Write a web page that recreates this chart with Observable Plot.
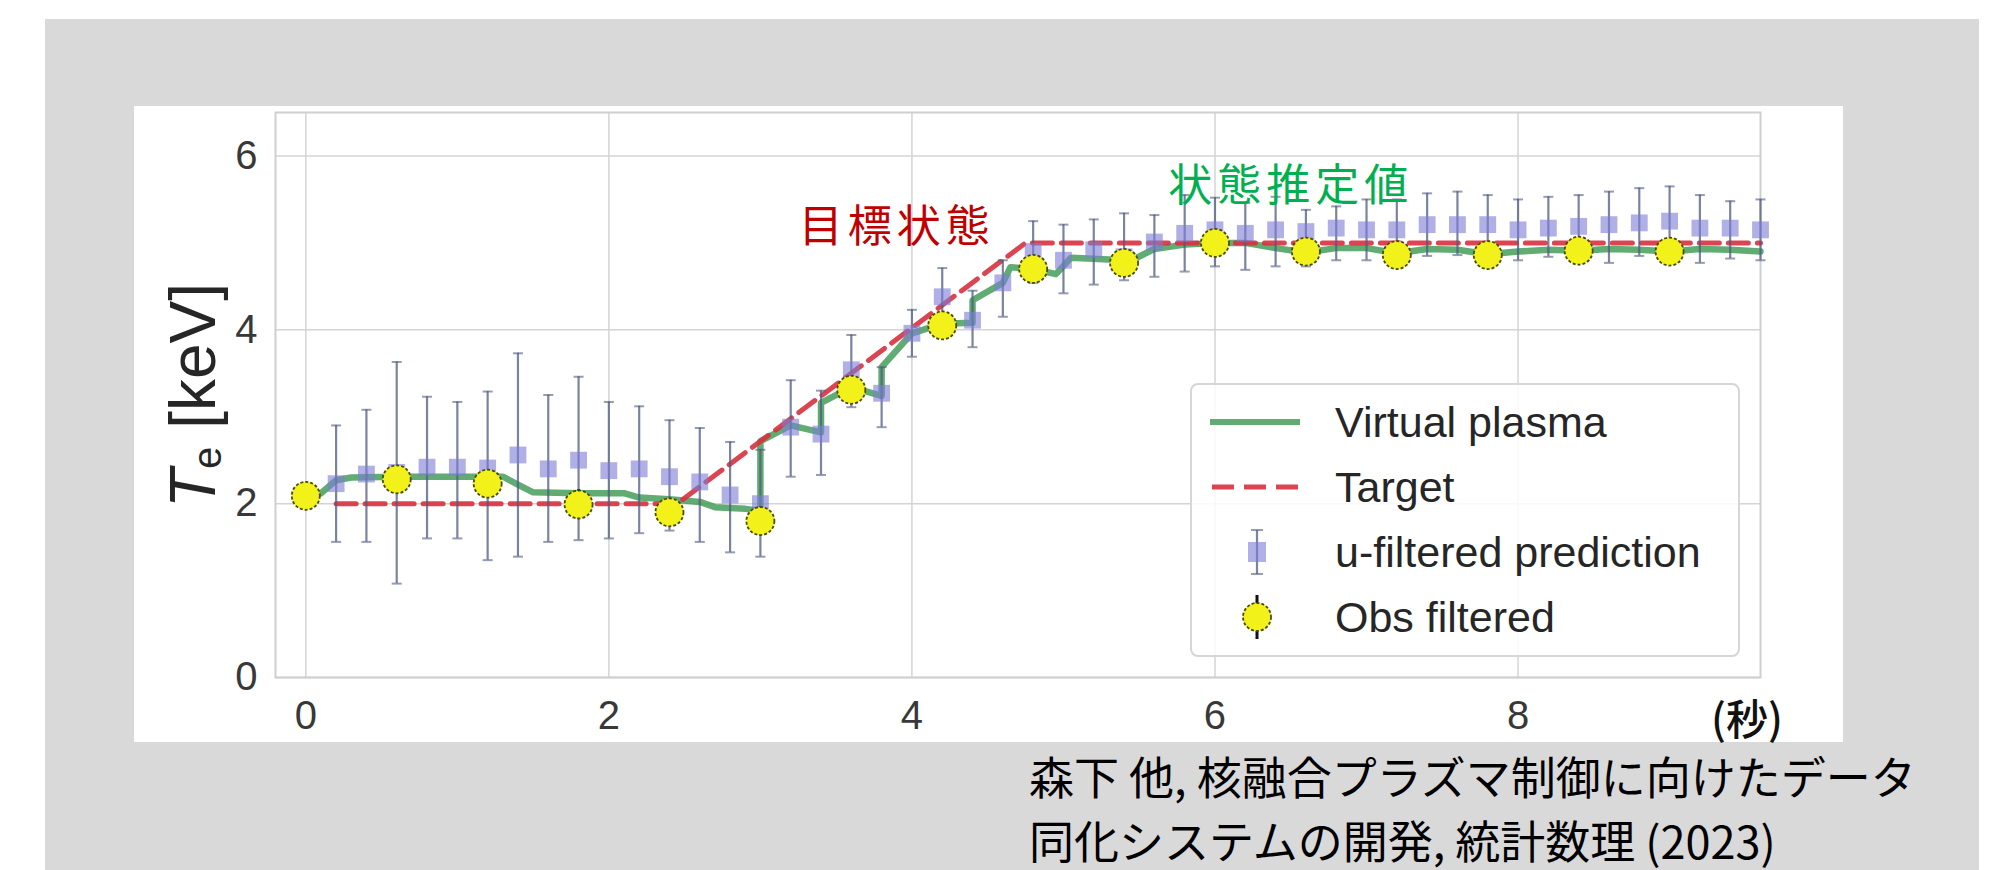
<!DOCTYPE html>
<html>
<head>
<meta charset="utf-8">
<script src="https://cdn.jsdelivr.net/npm/d3@7"></script>
<script src="https://cdn.jsdelivr.net/npm/@observablehq/plot@0.6"></script>
<style>
  html, body { margin: 0; padding: 0; background: #ffffff; }
  body { width: 2005px; height: 870px; position: relative; overflow: hidden; }
  #panel { position: absolute; left: 45px; top: 19px; width: 1934px; height: 851px; background: #d9d9d9; }
  #chart { position: absolute; left: 134px; top: 106px; width: 1709px; height: 636px; background: #ffffff; }
  #chart svg { display: block; }
  #legend { position: absolute; left: 1190px; top: 383px; width: 550px; height: 274px; box-sizing: border-box;
            border: 2px solid #d6d6d6; border-radius: 8px; background: rgba(255,255,255,0.85); }
  .lg-row { position: absolute; left: 0; width: 100%; height: 60px; }
  .lg-row svg { position: absolute; left: 12px; top: 0; }
  .lg-row span { position: absolute; left: 143px; top: 0; line-height: 60px; font-family: "Liberation Sans", Arial, sans-serif;
                 font-size: 43px; color: #262626; white-space: nowrap; }
  #unit { position: absolute; left: 1711px; top: 693px; font-family: "Noto Sans CJK JP", sans-serif; font-size: 42px;
          line-height: 48px; color: #111; font-weight: 500; }
  #caption { position: absolute; left: 1029px; top: 744px; font-family: "Noto Sans CJK JP", sans-serif; font-size: 45px;
             line-height: 64px; color: #000; white-space: nowrap; }
</style>
</head>
<body>
<div id="panel"></div>
<div id="chart"></div>
<div id="legend"></div>
<div id="unit">(秒)</div>
<div id="caption">森下 他, 核融合プラズマ制御に向けたデータ<br>同化システムの開発, 統計数理 (2023)</div>
<script>
// ---------------- data ----------------
const xTicks = [0, 2, 4, 6, 8];
const yTicks = [0, 2, 4, 6];

// Virtual plasma (green line)
const plasmaT   = [0, 0.1, 0.2, 0.3, 0.6, 1.0, 1.3, 1.4, 1.5, 1.8, 2.1, 2.2, 2.4, 2.6, 2.7, 2.9, 3.0, 3.0, 3.2, 3.4, 3.4, 3.6, 3.8, 3.8, 4.0, 4.2, 4.4, 4.4, 4.6, 4.65, 4.8, 4.95, 5.05, 5.3, 5.45, 5.6, 5.8, 6.0, 6.2, 6.4, 6.6, 6.8, 7.0, 7.2, 7.4, 7.6, 7.8, 8.0, 8.2, 8.4, 8.6, 8.8, 9.0, 9.2, 9.4, 9.6];
const plasmaVal = [2.08, 2.12, 2.27, 2.30, 2.31, 2.31, 2.31, 2.22, 2.13, 2.12, 2.12, 2.07, 2.05, 2.02, 1.96, 1.94, 1.92, 2.72, 2.90, 2.82, 3.16, 3.34, 3.24, 3.57, 3.96, 4.07, 4.08, 4.34, 4.54, 4.72, 4.70, 4.64, 4.83, 4.81, 4.80, 4.93, 4.98, 5.00, 5.00, 4.94, 4.89, 4.94, 4.94, 4.88, 4.93, 4.92, 4.87, 4.90, 4.92, 4.91, 4.93, 4.92, 4.90, 4.93, 4.92, 4.90];

// Target (red dashed)
const targetT   = [0.2, 2.45, 4.75, 9.6];
const targetVal = [2.0, 2.0, 5.0, 5.0];

// u-filtered prediction (squares with error bars)
const predT   = [0.2, 0.4, 0.6, 0.8, 1.0, 1.2, 1.4, 1.6, 1.8, 2.0, 2.2, 2.4, 2.6, 2.8, 3.0, 3.2, 3.4, 3.6, 3.8, 4.0, 4.2, 4.4, 4.6, 4.8, 5.0, 5.2, 5.4, 5.6, 5.8, 6.0, 6.2, 6.4, 6.6, 6.8, 7.0, 7.2, 7.4, 7.6, 7.8, 8.0, 8.2, 8.4, 8.6, 8.8, 9.0, 9.2, 9.4, 9.6];
const predVal = [2.23, 2.34, 2.36, 2.42, 2.42, 2.41, 2.56, 2.40, 2.50, 2.38, 2.40, 2.31, 2.25, 2.10, 2.00, 2.88, 2.80, 3.54, 3.27, 3.96, 4.38, 4.11, 4.54, 4.90, 4.80, 4.92, 4.84, 5.01, 5.11, 5.15, 5.11, 5.15, 5.13, 5.17, 5.15, 5.15, 5.21, 5.21, 5.21, 5.15, 5.17, 5.19, 5.21, 5.23, 5.25, 5.17, 5.17, 5.15];
const predLo  = [1.56, 1.56, 1.08, 1.60, 1.60, 1.35, 1.39, 1.56, 1.58, 1.60, 1.66, 1.69, 1.56, 1.44, 1.39, 2.31, 2.33, 3.11, 2.88, 3.69, 4.04, 3.80, 4.15, 4.54, 4.42, 4.52, 4.57, 4.61, 4.67, 4.73, 4.69, 4.73, 4.73, 4.80, 4.80, 4.80, 4.85, 4.86, 4.85, 4.80, 4.84, 4.80, 4.77, 4.85, 4.80, 4.77, 4.82, 4.80];
const predHi  = [2.90, 3.08, 3.63, 3.23, 3.17, 3.29, 3.73, 3.25, 3.46, 3.17, 3.12, 2.96, 2.87, 2.71, 2.62, 3.42, 3.30, 3.94, 3.57, 4.23, 4.71, 4.45, 4.80, 5.25, 5.21, 5.27, 5.34, 5.32, 5.55, 5.52, 5.46, 5.53, 5.38, 5.42, 5.50, 5.50, 5.57, 5.59, 5.55, 5.50, 5.53, 5.55, 5.59, 5.63, 5.65, 5.55, 5.48, 5.50];

// Obs filtered (yellow circles)
const obsT   = [0, 0.6, 1.2, 1.8, 2.4, 3.0, 3.6, 4.2, 4.8, 5.4, 6.0, 6.6, 7.2, 7.8, 8.4, 9.0];
const obsVal = [2.09, 2.28, 2.23, 1.99, 1.90, 1.80, 3.31, 4.05, 4.70, 4.77, 5.00, 4.90, 4.86, 4.86, 4.91, 4.90];
const obsErr = [0.14, 0.15, 0.15, 0.17, 0.16, 0.16, 0.15, 0.15, 0.15, 0.15, 0.15, 0.15, 0.15, 0.15, 0.15, 0.15];

// annotations
const annoLabel = ["目標状態", "状態推定値"];
const annoX     = [3.9, 6.5];
const annoY     = [5.17, 5.64];
const annoColor = ["#c00000", "#00b050"];

const legendLabels = ["Virtual plasma", "Target", "u-filtered prediction", "Obs filtered"];

// ---------------- tables ----------------
const plasma = plasmaT.map((t, i) => ({t, v: plasmaVal[i]}));
const target = targetT.map((t, i) => ({t, v: targetVal[i]}));
const pred = predT.map((t, i) => ({t, v: predVal[i], lo: predLo[i], hi: predHi[i]}));
const obs = obsT.map((t, i) => ({t, v: obsVal[i], lo: obsVal[i] - obsErr[i], hi: obsVal[i] + obsErr[i]}));
const annos = annoLabel.map((s, i) => ({s, x: annoX[i], y: annoY[i], c: annoColor[i]}));

const GREEN = "#459e5a", RED = "#d9303e", SQ = "#7b7bd6", BAR = "#4f5a80", YEL = "#f2f21a";

const capSymbol = { draw(context, size) { const w = Math.sqrt(size / Math.PI); context.moveTo(-w, 0); context.lineTo(w, 0); } };

const chart = Plot.plot({
  width: 1709, height: 636,
  marginLeft: 141, marginTop: 6, marginRight: 83, marginBottom: 65,
  x: {domain: [-0.2, 9.6]},
  y: {domain: [0, 6.5]},
  style: {fontFamily: "'Liberation Sans', Arial, sans-serif", fontSize: "40px", color: "#383838", background: "white", overflow: "visible"},
  marks: [
    Plot.gridX(xTicks, {stroke: "#d4d4d4", strokeOpacity: 1, strokeWidth: 1.5}),
    Plot.gridY(yTicks, {stroke: "#d4d4d4", strokeOpacity: 1, strokeWidth: 1.5}),
    Plot.frame({stroke: "#cfcfcf", strokeWidth: 2}),
    Plot.axisX(xTicks, {tickSize: 0, tickPadding: 23, label: null, tickFormat: d => String(d)}),
    Plot.axisY(yTicks, {tickSize: 0, tickPadding: 18, label: null, tickFormat: d => String(d)}),
    Plot.line(plasma, {x: "t", y: "v", stroke: GREEN, strokeWidth: 6.5, strokeOpacity: 0.85, curve: "linear"}),
    Plot.line(target, {x: "t", y: "v", stroke: RED, strokeWidth: 5, strokeOpacity: 0.9, strokeDasharray: "20,9"}),
    Plot.ruleX(pred, {x: "t", y1: "lo", y2: "hi", stroke: BAR, strokeWidth: 2.2, strokeOpacity: 0.75}),
    Plot.dot(pred, {x: "t", y: "lo", symbol: capSymbol, r: 5, stroke: BAR, strokeWidth: 2, strokeOpacity: 0.6, fill: "none"}),
    Plot.dot(pred, {x: "t", y: "hi", symbol: capSymbol, r: 5, stroke: BAR, strokeWidth: 2, strokeOpacity: 0.6, fill: "none"}),
    Plot.dot(pred, {x: "t", y: "v", symbol: "square", r: 9.5, fill: SQ, fillOpacity: 0.6, stroke: "none"}),
    Plot.ruleX(obs, {x: "t", y1: "lo", y2: "hi", stroke: "#111", strokeWidth: 3}),
    Plot.dot(obs, {x: "t", y: "v", r: 14, fill: YEL, stroke: "#4a4a00", strokeWidth: 1.8, strokeDasharray: "3,2"}),
    Plot.text(annos, {x: "x", y: "y", text: "s", fill: "c", fontSize: 44, fontWeight: 400,
      fontFamily: "'Noto Sans CJK JP', sans-serif", textAnchor: "middle"})
  ]
});
document.getElementById("chart").appendChild(chart);

// letter spacing for the two annotations
chart.querySelectorAll("text").forEach(t => {
  if (annoLabel.includes(t.textContent)) { t.style.letterSpacing = "5px"; t.setAttribute("letter-spacing", "5"); }
});

// y-axis label: T_e [keV]
const NS = "http://www.w3.org/2000/svg";
const lab = document.createElementNS(NS, "text");
lab.setAttribute("transform", "translate(81,289.5) rotate(-90)");
lab.setAttribute("text-anchor", "middle");
lab.setAttribute("font-family", "'Liberation Sans', Arial, sans-serif");
lab.setAttribute("font-size", "64");
lab.setAttribute("fill", "#262626");
lab.setAttribute("style", "white-space: pre");
const t1 = document.createElementNS(NS, "tspan"); t1.setAttribute("font-style", "italic"); t1.textContent = "T";
const t2 = document.createElementNS(NS, "tspan"); t2.setAttribute("font-size", "40"); t2.setAttribute("dy", "6"); t2.textContent = "e";
const t3 = document.createElementNS(NS, "tspan"); t3.setAttribute("dy", "-6"); t3.textContent = " [keV]";
lab.append(t1, t2, t3);
chart.appendChild(lab);

// legend
const legend = document.getElementById("legend");
const rowsTop = [7, 72, 137, 202];
const symbols = [
  `<line x1="6" y1="30" x2="96" y2="30" stroke="${GREEN}" stroke-width="6" stroke-opacity="0.85"/>`,
  `<line x1="8" y1="30" x2="94" y2="30" stroke="${RED}" stroke-width="5" stroke-dasharray="22,10" stroke-opacity="0.9"/>`,
  `<line x1="53" y1="8" x2="53" y2="52" stroke="${BAR}" stroke-width="2.2" stroke-opacity="0.75"/>
   <line x1="47" y1="8" x2="59" y2="8" stroke="${BAR}" stroke-width="2" stroke-opacity="0.6"/>
   <line x1="47" y1="52" x2="59" y2="52" stroke="${BAR}" stroke-width="2" stroke-opacity="0.6"/>
   <rect x="44" y="20" width="18" height="20" fill="${SQ}" fill-opacity="0.6"/>`,
  `<line x1="53" y1="8" x2="53" y2="52" stroke="#111" stroke-width="3"/>
   <circle cx="53" cy="30" r="14" fill="${YEL}" stroke="#4a4a00" stroke-width="1.8" stroke-dasharray="3,2"/>`
];
legendLabels.forEach((lbl, i) => {
  const row = document.createElement("div");
  row.className = "lg-row";
  row.style.top = rowsTop[i] + "px";
  row.innerHTML = `<svg width="110" height="60">${symbols[i]}</svg><span>${lbl}</span>`;
  legend.appendChild(row);
});
</script>
</body>
</html>
